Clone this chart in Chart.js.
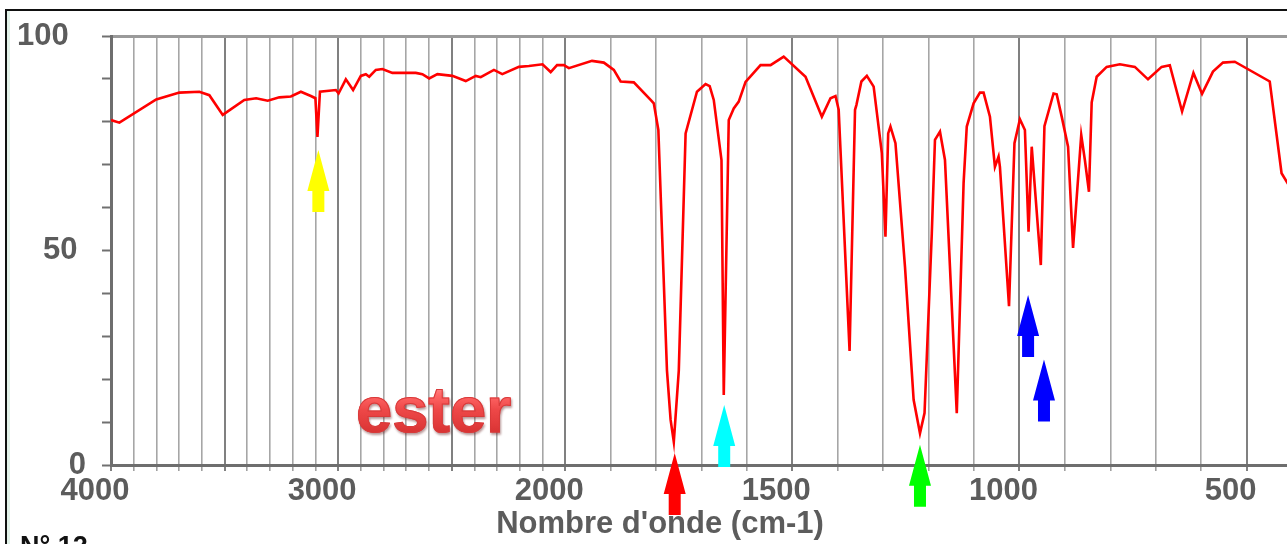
<!DOCTYPE html>
<html>
<head>
<meta charset="utf-8">
<script src="https://cdn.jsdelivr.net/npm/chart.js@4.4.1/dist/chart.umd.min.js"></script>
<style>
html,body{margin:0;padding:0;width:1287px;height:544px;overflow:hidden;background:#fff;}
#frame{position:absolute;left:5px;top:9px;width:1400px;height:700px;border-top:2px solid #111;border-left:2px solid #111;}
#frame:before{content:'';position:absolute;left:0;top:0;width:3px;height:100%;background:#e3f3ea;}
#wrap{position:absolute;left:0;top:0;width:1294px;height:544px;}
#xtitle{position:absolute;left:460px;width:400px;top:507px;text-align:center;font:bold 31px 'Liberation Sans',Arial,sans-serif;line-height:31px;color:#5c5c5c;white-space:nowrap;}
#num{position:absolute;left:20px;top:533px;font:bold 27px 'Liberation Sans',Arial,sans-serif;line-height:27px;color:#111;white-space:nowrap;}
#ester{position:absolute;left:356px;top:377px;font:bold 65px 'Liberation Sans',Arial,sans-serif;line-height:65px;white-space:nowrap;
  background:linear-gradient(to bottom,#ffb0b0 0%,#f66 28%,#ee4848 50%,#e03a3a 75%,#cc2a2a 100%);
  -webkit-background-clip:text;background-clip:text;color:transparent;-webkit-text-stroke:1px #d83a3a;
  filter:drop-shadow(1px 2px 1px rgba(80,0,0,0.4));}
</style>
</head>
<body>
<div id="frame"></div>
<div id="wrap"><canvas id="c"></canvas></div>
<div id="ester">ester</div>
<div id="xtitle">Nombre d'onde (cm-1)</div>
<div id="num">N° 12</div>
<script>
// ---- data ----
const wavenumbers = [4000,3963,3801,3699,3611,3567,3508,3413,3361,3310,
  3259,3208,3164,3120,3100,3091,3080,3010,2998,2966,
  2934,2900,2878,2863,2834,2805,2761,2658,2629,2599,
  2563,2497,2438,2394,2372,2314,2277,2204,2160,2100,
  2064,2036,2006,1992,1941,1915,1893,1878,1849,1812,
  1805,1795,1776,1768,1761,1750,1735,1710,1691,1682,
  1673,1656,1651,1640,1629,1618,1603,1570,1548,1519,
  1471,1435,1416,1405,1398,1374,1362,1359,1348,1336,
  1321,1303,1295,1289,1284,1273,1252,1233,1219,1209,
  1193,1186,1175,1164,1138,1123,1116,1101,1087,1079,
  1065,1054,1046,1043,1023,1011,999,988,980,973,
  953,945,925,918,907,893,882,864,856,847,
  841,830,808,779,746,717,687,669,642,617,
  598,574,552,526,449,423,400];
const transmittance = [80.4,79.8,85.2,86.8,87.0,86.2,81.6,85.1,85.5,84.9,
  85.7,85.9,87.0,86.0,85.5,76.5,87.0,87.4,86.6,89.9,
  87.4,90.7,91.1,90.5,92.1,92.3,91.4,91.4,91.1,90.1,
  91.1,90.7,89.5,90.7,90.4,92.1,91.1,92.8,93.0,93.4,
  91.6,93.2,93.2,92.5,94.2,93.8,92.1,89.4,89.2,85.1,
  84.3,78.1,22,10.5,5.4,22,77.3,87,88.8,88.3,
  85.1,71.1,16.3,80.4,83.1,84.7,89.3,93.2,93.2,95.2,
  90.5,81.2,85.5,86.0,82.8,26.6,82.8,83.9,89.4,90.7,
  88.2,72.7,53.2,77.3,78.9,75,46.2,15.2,7.4,12.1,
  54,75.8,77.7,71.1,12.1,65.7,78.9,84.3,86.8,86.8,
  81.2,69.5,71.9,69.5,37,75,80.6,78.1,54.4,74.2,
  46.6,79,86.6,86.4,81.2,74.2,50.6,76.9,71.1,63.7,
  84.5,90.5,92.8,93.4,92.8,89.9,92.8,93.2,82.4,91.4,
  86.5,91.7,93.8,94.0,89.4,68.0,64];
const xTickLabels = [4000,3000,2000,1500,1000,500];
const yTickLabels = [0,50,100];
// annotation arrows: wavenumber of the band and transmittance at the arrow tip
const arrowWavenumbers = [3087,1759,1650,1219,981,946];
const arrowTipValues = [73.4,2.8,14.0,4.7,39.6,24.6];

// ---- styles ----
const arrowColors = ['#ffff00','#ff0000','#00ffff','#00ff00','#0000ff','#0000ff'];
const labelFont = {family:"'Liberation Sans', Arial, sans-serif", size:31, weight:'bold'};
const labelColor = '#5c5c5c';

// IR axis: scale changes at 2000 cm-1 (1000 cm-1 per unit above, 500 cm-1 per unit below)
const toP = w => w >= 2000 ? (4000 - w) / 1000 : 2 + (2000 - w) / 500;
const fromP = p => Math.round(p <= 2 ? 4000 - 1000 * p : 2000 - 500 * (p - 2));
const gridWn = [];
for (let w = 4000; w >= 2000; w -= 100) gridWn.push(w);
for (let w = 1900; w >= 400; w -= 100) gridWn.push(w);
const isMajor = ctx => ctx.tick && fromP(ctx.tick.value) % 500 === 0;

const points = wavenumbers.map((w, i) => ({x: toP(w), y: transmittance[i]}));

const arrowPlugin = {
  id: 'arrows',
  afterDraw(chart) {
    const {ctx, scales} = chart;
    ctx.save();
    arrowWavenumbers.forEach((w, i) => {
      const x = scales.x.getPixelForValue(toP(w));
      const y = scales.y.getPixelForValue(arrowTipValues[i]);
      ctx.fillStyle = arrowColors[i];
      ctx.beginPath();
      ctx.moveTo(x, y);
      ctx.lineTo(x + 11, y + 41);
      ctx.lineTo(x + 6, y + 41);
      ctx.lineTo(x + 6, y + 62);
      ctx.lineTo(x - 6, y + 62);
      ctx.lineTo(x - 6, y + 41);
      ctx.lineTo(x - 11, y + 41);
      ctx.closePath();
      ctx.fill();
    });
    ctx.restore();
  }
};

new Chart(document.getElementById('c'), {
  type: 'line',
  data: {datasets: [{
    data: points,
    borderColor: '#ff0000',
    borderWidth: 2.6,
    pointRadius: 0,
    tension: 0,
    fill: false
  }]},
  options: {
    responsive: true,
    maintainAspectRatio: false,
    animation: false,
    devicePixelRatio: 1,
    layout: {padding: {top: 36, right: 0, bottom: 0, left: 0}},
    plugins: {legend: {display: false}, tooltip: {enabled: false}},
    scales: {
      x: {
        type: 'linear',
        min: 0,
        max: toP(400),
        afterBuildTicks: s => { s.ticks = gridWn.map(w => ({value: toP(w)})); },
        afterFit: s => { s.height = 79; },
        ticks: {
          autoSkip: false, maxRotation: 0, minRotation: 0,
          padding: 2, labelOffset: -16,
          font: labelFont, color: labelColor,
          callback: v => { const w = fromP(v); return xTickLabels.includes(w) ? String(w) : ''; }
        },
        grid: {
          color: ctx => isMajor(ctx) ? '#808080' : '#a6a6a6',
          lineWidth: ctx => isMajor(ctx) ? 2 : 1.6,
          tickColor: ctx => isMajor(ctx) ? '#808080' : '#a0a0a0',
          tickLength: 6
        },
        border: {color: '#6e6e6e', width: 3}
      },
      y: {
        min: 0, max: 100,
        afterFit: s => { s.width = 111; },
        ticks: {
          stepSize: 10, padding: 16,
          font: labelFont, color: labelColor,
          callback: v => {
            if (!yTickLabels.includes(v)) return '';
            const s = String(v);
            return s + '\u00a0'.repeat(s.length - 1);
          }
        },
        grid: {
          color: ctx => ctx.tick && ctx.tick.value === 100 ? '#9a9a9a' : 'rgba(0,0,0,0)',
          lineWidth: ctx => ctx.tick && ctx.tick.value === 100 ? 3 : 1,
          tickColor: '#707070',
          tickWidth: 2,
          tickLength: 9
        },
        border: {color: '#6e6e6e', width: 3}
      }
    }
  },
  plugins: [arrowPlugin]
});
</script>
</body>
</html>
